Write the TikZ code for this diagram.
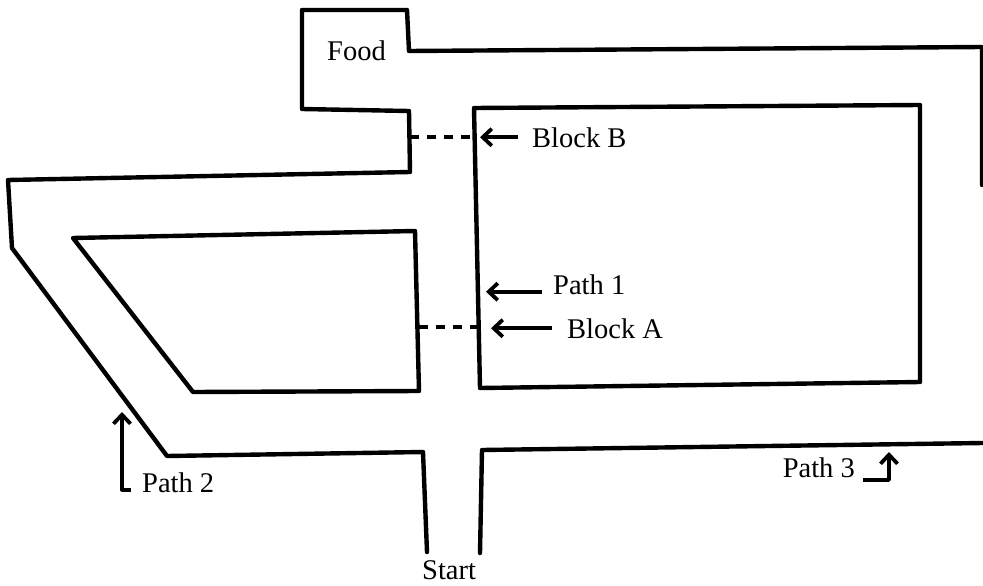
\documentclass[tikz,border=0pt]{standalone}
\usepackage{fontspec}
\setmainfont{Liberation Serif}
\usetikzlibrary{arrows.meta, positioning, calc}
\tikzset{
  wall/.style={line width=4.4pt, line join=round, line cap=round},
  gate/.style={line width=4pt, dash pattern=on 9pt off 8pt},
  pointer/.style={line width=3.8pt, line join=round, -{Straight Barb[length=9pt, width=17pt, line width=3.8pt]}},
  lbl/.style={inner sep=0pt, anchor=base west, font=\fontsize{28.5}{30}\selectfont}
}

\begin{document}
\begin{tikzpicture}[x=1pt, y=-1pt]
\useasboundingbox (0,0) rectangle (983,586);

% outer wall, with the food box
\draw[wall] (982,185) -- (982,47) -- (409,51) -- (407,10) -- (302,10) -- (302,109) -- (409,111) -- (410,172) -- (8,180) -- (12,248) -- (167,456) -- (423,452) -- (427,552);
% lower right wall
\draw[wall] (480,553) -- (482,450) -- (983,443);
% inner blocks
\draw[wall] (73,238) -- (415,231) -- (419,391) -- (193,392) -- cycle;
\draw[wall] (474,108) -- (920,105) -- (920,382) -- (480,388) -- cycle;

% blocks put into the paths
\coordinate (gateB1) at (410,137);
\coordinate (gateB2) at (474,137);
\coordinate (gateA1) at (419,327);
\coordinate (gateA2) at (478,327);
\draw[gate] (gateB1) -- (gateB2);
\draw[gate] (gateA1) -- (gateA2);

% labels
\node[lbl] (food) at (327,61) {Food};
\node[lbl] (start) at (422,579) {Start};
\node[lbl] (blockB) at (532,147) {Block B};
\node[lbl] (path1) at (553,294) {Path 1};
\node[lbl] (blockA) at (567,338) {Block A};
\node[lbl] (path2) at (142,492) {Path 2};
\node[lbl, anchor=base east] (path3) at (855,477) {Path 3};

% arrow tips on the walls
\coordinate (tipB) at (480,137);
\coordinate (tip1) at (486,288);
\coordinate (tipA) at (491,328);
\coordinate (tip2) at (122,412);
\coordinate (tip3) at (889,452);

\draw[pointer] ([xshift=-14pt]blockB.west) -- (blockB.west -| tipB);
\draw[pointer] ([xshift=-11pt]path1.mid west) -- (path1.mid west -| tip1);
\draw[pointer] ([xshift=-15pt]blockA.west) -- (blockA.west -| tipA);
\draw[pointer] ([xshift=-11pt]path2.mid west) -| (tip2);
\draw[pointer] ([xshift=8pt,yshift=-3pt]path3.base east) -| (tip3);
\end{tikzpicture}
\end{document}
